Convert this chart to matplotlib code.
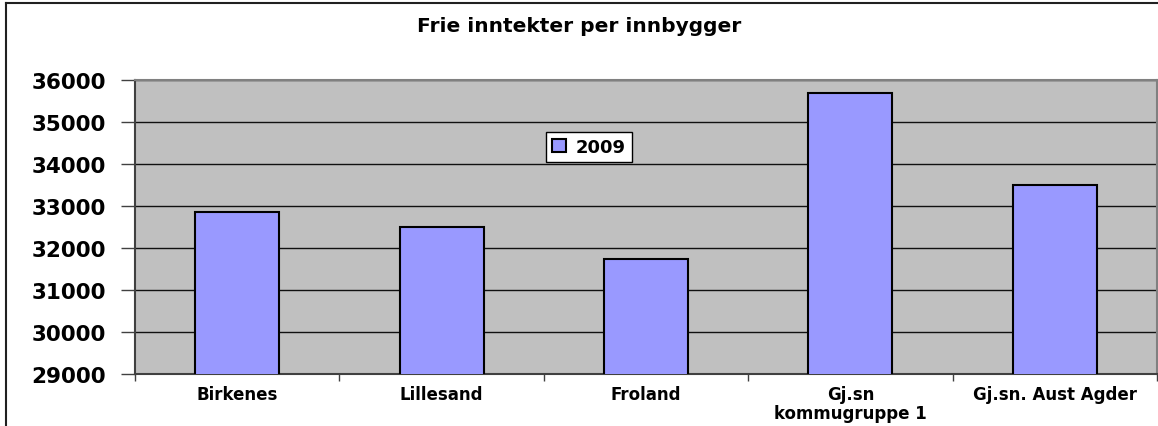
import matplotlib
matplotlib.use("Agg")
import matplotlib.pyplot as plt
from matplotlib.lines import Line2D
import numpy as np

title = "Frie inntekter per innbygger"
categories = ["Birkenes", "Lillesand", "Froland", "Gj.sn\nkommugruppe 1", "Gj.sn. Aust Agder"]
series_name = "2009"
values = [32850, 32505, 31740, 35685, 33500]
yticks = [29000, 30000, 31000, 32000, 33000, 34000, 35000, 36000]

W, H = 1158, 427
fig = plt.figure(figsize=(W / 100, H / 100), dpi=100)
fig.patch.set_facecolor("white")
ax = fig.add_axes([135 / W, 1 - 375 / H, 1022 / W, 294 / H])
ax.set_facecolor("#C0C0C0")

x = np.arange(len(categories))
ax.bar(x, values, width=0.41, color="#9999FF", edgecolor="black", linewidth=1.5,
       label=series_name, zorder=3)

ax.set_xlim(-0.5, len(categories) - 0.5)
ax.set_ylim(yticks[0], yticks[-1])
ax.set_yticks(yticks)
ax.set_yticklabels([str(t) for t in yticks], fontsize=15.5, fontweight="bold",
                   family="DejaVu Sans")
ax.yaxis.grid(True, color="#101010", linewidth=1.0, zorder=1)
ax.set_axisbelow(True)
ax.tick_params(axis="y", length=10, width=1, color="#404040", pad=11, direction="out")

ax.set_xticks(x)
ax.set_xticklabels(categories, fontsize=12, fontweight="bold", family="DejaVu Sans",
                   linespacing=1.05)
ax.tick_params(axis="x", which="major", length=0, pad=8)
ax.set_xticks(np.arange(-0.5, len(categories)), minor=True)
ax.tick_params(axis="x", which="minor", length=5, width=1, color="#404040", direction="out")

for side in ["top", "right"]:
    ax.spines[side].set_color("#808080")
    ax.spines[side].set_linewidth(1.5)
for side in ["left", "bottom"]:
    ax.spines[side].set_color("#404040")
    ax.spines[side].set_linewidth(1.5)

leg = ax.legend(loc="center", bbox_to_anchor=(0.444, 0.772), frameon=True, fancybox=False,
                edgecolor="black", facecolor="white", framealpha=1,
                prop={"size": 13, "weight": "bold", "family": "DejaVu Sans"},
                handlelength=0.8, handleheight=0.7, handletextpad=0.5,
                borderpad=0.35, borderaxespad=0)
leg.get_frame().set_linewidth(1.0)

fig.text(0.5, 1 - 27 / H, title, ha="center", va="center", fontsize=14.5,
         fontweight="bold", family="DejaVu Sans")

# outer chart frame (left and top edges visible)
fig.add_artist(Line2D([6 / W, 6 / W], [0, 1 - 4 / H], color="#202020", linewidth=1.5,
                      transform=fig.transFigure))
fig.add_artist(Line2D([6 / W, 1], [1 - 4 / H, 1 - 4 / H], color="#202020", linewidth=1.5,
                      transform=fig.transFigure))

fig.savefig("out.png", dpi=100, facecolor="white")
